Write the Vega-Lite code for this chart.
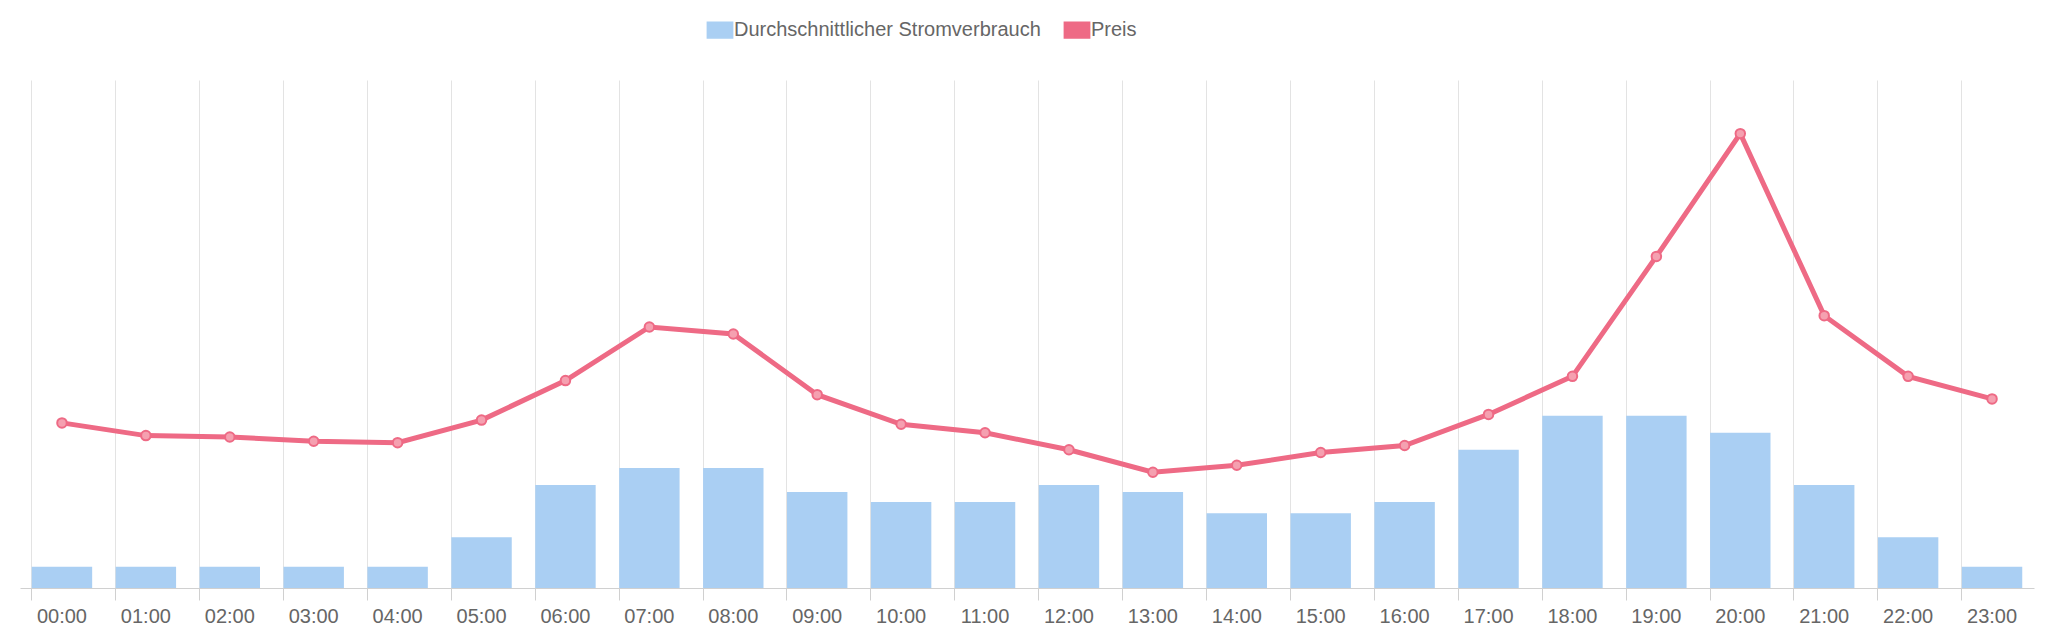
{
  "$schema": "https://vega.github.io/schema/vega-lite/v6.json",
  "autosize": {"type": "fit", "contains": "padding"},
  "width": 2054,
  "height": 636,
  "padding": {"left": 20, "right": 20, "top": 80, "bottom": 10},
  "config": {
    "view": {"stroke": null},
    "font": "Liberation Sans",
    "axis": {"labelFont": "Liberation Sans", "labelColor": "#666", "labelFontSize": 20}
  },
  "data": {
    "values": [
      {"stunde": "00:00", "verbrauch": 15, "preis": 117},
      {"stunde": "01:00", "verbrauch": 15, "preis": 108},
      {"stunde": "02:00", "verbrauch": 15, "preis": 107},
      {"stunde": "03:00", "verbrauch": 15, "preis": 104},
      {"stunde": "04:00", "verbrauch": 15, "preis": 103},
      {"stunde": "05:00", "verbrauch": 36, "preis": 119},
      {"stunde": "06:00", "verbrauch": 73, "preis": 147},
      {"stunde": "07:00", "verbrauch": 85, "preis": 185},
      {"stunde": "08:00", "verbrauch": 85, "preis": 180},
      {"stunde": "09:00", "verbrauch": 68, "preis": 137},
      {"stunde": "10:00", "verbrauch": 61, "preis": 116},
      {"stunde": "11:00", "verbrauch": 61, "preis": 110},
      {"stunde": "12:00", "verbrauch": 73, "preis": 98},
      {"stunde": "13:00", "verbrauch": 68, "preis": 82},
      {"stunde": "14:00", "verbrauch": 53, "preis": 87},
      {"stunde": "15:00", "verbrauch": 53, "preis": 96},
      {"stunde": "16:00", "verbrauch": 61, "preis": 101},
      {"stunde": "17:00", "verbrauch": 98, "preis": 123},
      {"stunde": "18:00", "verbrauch": 122, "preis": 150},
      {"stunde": "19:00", "verbrauch": 122, "preis": 235},
      {"stunde": "20:00", "verbrauch": 110, "preis": 322},
      {"stunde": "21:00", "verbrauch": 73, "preis": 193},
      {"stunde": "22:00", "verbrauch": 36, "preis": 150},
      {"stunde": "23:00", "verbrauch": 15, "preis": 134}
    ]
  },
  "encoding": {
    "x": {
      "field": "stunde",
      "type": "ordinal",
      "title": null,
      "scale": {"paddingInner": 0.28, "paddingOuter": 0.14},
      "axis": {
        "labelAngle": 0,
        "grid": true,
        "gridColor": "#e3e3e3",
        "bandPosition": 0,
        "domainColor": "#d0d0d0",
        "tickColor": "#d0d0d0",
        "tickSize": 12,
        "labelPadding": 6
      }
    }
  },
  "layer": [
    {
      "mark": {"type": "bar", "opacity": 1},
      "encoding": {
        "y": {
          "field": "verbrauch",
          "type": "quantitative",
          "scale": {"domain": [0, 360], "nice": false},
          "axis": null
        },
        "color": {"datum": "Durchschnittlicher Stromverbrauch"}
      }
    },
    {
      "mark": {
        "type": "line",
        "strokeWidth": 5,
        "point": {"filled": true, "size": 90, "fill": "#f5a0b0", "stroke": "#ee6a85", "strokeWidth": 2}
      },
      "encoding": {
        "y": {"field": "preis", "type": "quantitative"},
        "color": {
          "datum": "Preis",
          "scale": {
            "domain": ["Durchschnittlicher Stromverbrauch", "Preis"],
            "range": ["#aacff3", "#ee6a85"]
          },
          "legend": {
            "orient": "none",
            "legendX": 690,
            "legendY": -60,
            "direction": "horizontal",
            "title": null,
            "symbolType": "M-1.6,-1L1.6,-1L1.6,1L-1.6,1Z",
            "symbolSize": 250,
            "labelFontSize": 20,
            "labelColor": "#666",
            "labelFont": "Liberation Sans",
            "labelLimit": 0,
            "columnPadding": 20
          }
        }
      }
    }
  ]
}
